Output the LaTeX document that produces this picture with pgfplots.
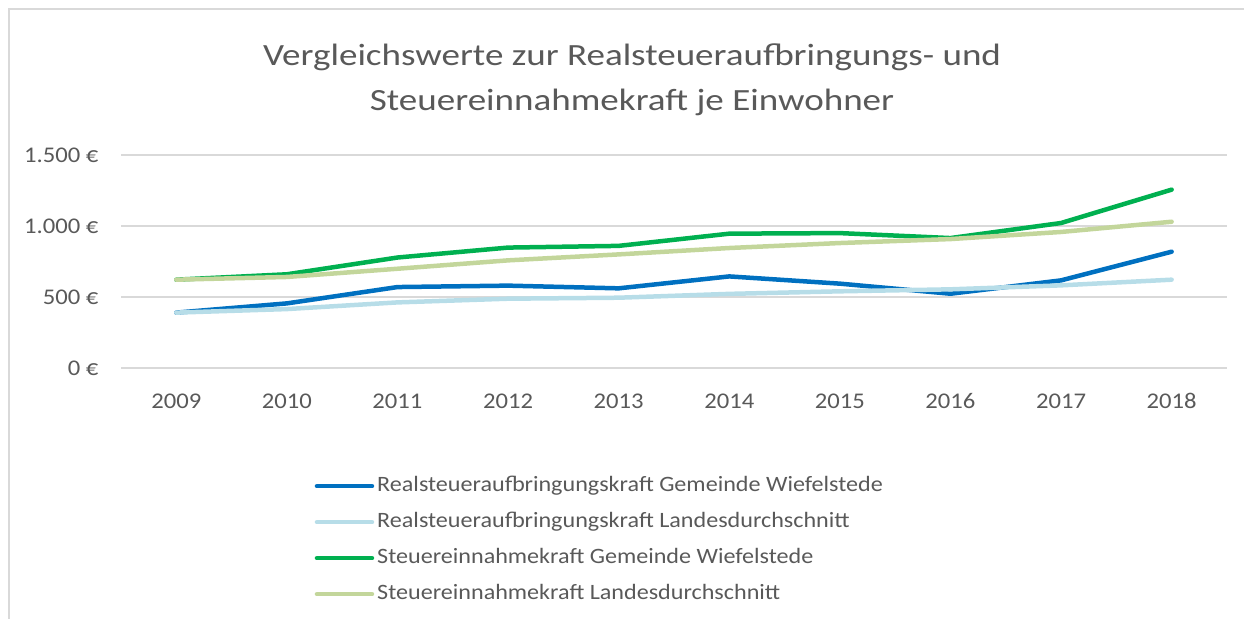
\documentclass[border=0pt]{standalone}
\usepackage{fontspec}
\setmainfont[FakeStretch=1.1]{Carlito}
\newfontfamily\titlefont[FakeStretch=1.2]{Carlito}
\usepackage{pgfplots}
\pgfplotsset{compat=1.18}
\definecolor{cBlue}{HTML}{0070C0}
\definecolor{cLBlue}{HTML}{B7DDE8}
\definecolor{cGreen}{HTML}{00B050}
\definecolor{cLGreen}{HTML}{C3D69B}
\definecolor{txt}{HTML}{595959}
\definecolor{gridc}{HTML}{D9D9D9}
\begin{document}
\begin{tikzpicture}
\useasboundingbox (0bp,0bp) rectangle (1244bp,619bp);
\draw[color=gridc, line width=1.5bp] (9bp,0bp) -- (9bp,610bp) -- (1244bp,610bp);
\node[text=txt, font=\titlefont\fontsize{31}{45}\selectfont, align=center] at (632bp,539bp) {Vergleichswerte zur Realsteueraufbringungs- und\\Steuereinnahmekraft je Einwohner};
\begin{axis}[
  at={(121bp,251bp)}, anchor=south west,
  width=1106bp, height=213bp, scale only axis,
  xmin=-0.5, xmax=9.5, ymin=0, ymax=1500,
  axis line style={draw=none},
  major tick length=0pt,
  xtick={0,...,9},
  xticklabels={2009,2010,2011,2012,2013,2014,2015,2016,2017,2018},
  ytick={0,500,1000,1500},
  yticklabels={0 €,500 €,1.000 €,1.500 €},
  ymajorgrids, grid style={gridc, line width=1.2bp},
  tick label style={text=txt, font=\fontsize{22.5}{26}\selectfont},
  xticklabel style={yshift=-22bp, text height=15bp, text depth=0pt},
  yticklabel style={xshift=-19bp},
  clip=false,
  legend cell align=left,
  legend style={at={(0.175,-0.49)}, anchor=north west, draw=none, fill=none,
    font=\fontsize{22}{26}\selectfont, text=txt, row sep=9bp, inner sep=0pt,
    nodes={inner sep=3bp, text height=16bp, text depth=5bp}},
  legend image code/.code={\draw[#1] (0bp,0bp) -- (55bp,0bp);},
  every axis plot/.append style={line width=4.5bp, line cap=round, line join=round},
]
\addplot[cBlue] coordinates {(0,390) (1,455) (2,570) (3,580) (4,561) (5,645) (6,594) (7,523) (8,617) (9,819)};
\addlegendentry{Realsteueraufbringungskraft Gemeinde Wiefelstede}
\addplot[cLBlue] coordinates {(0,390) (1,415) (2,462) (3,488) (4,495) (5,522) (6,540) (7,554) (8,582) (9,622)};
\addlegendentry{Realsteueraufbringungskraft Landesdurchschnitt}
\addplot[cGreen] coordinates {(0,622) (1,660) (2,778) (3,848) (4,860) (5,946) (6,950) (7,915) (8,1021) (9,1256)};
\addlegendentry{Steuereinnahmekraft Gemeinde Wiefelstede}
\addplot[cLGreen] coordinates {(0,622) (1,641) (2,699) (3,758) (4,800) (5,845) (6,880) (7,908) (8,958) (9,1030)};
\addlegendentry{Steuereinnahmekraft Landesdurchschnitt}
\end{axis}
\end{tikzpicture}
\end{document}
